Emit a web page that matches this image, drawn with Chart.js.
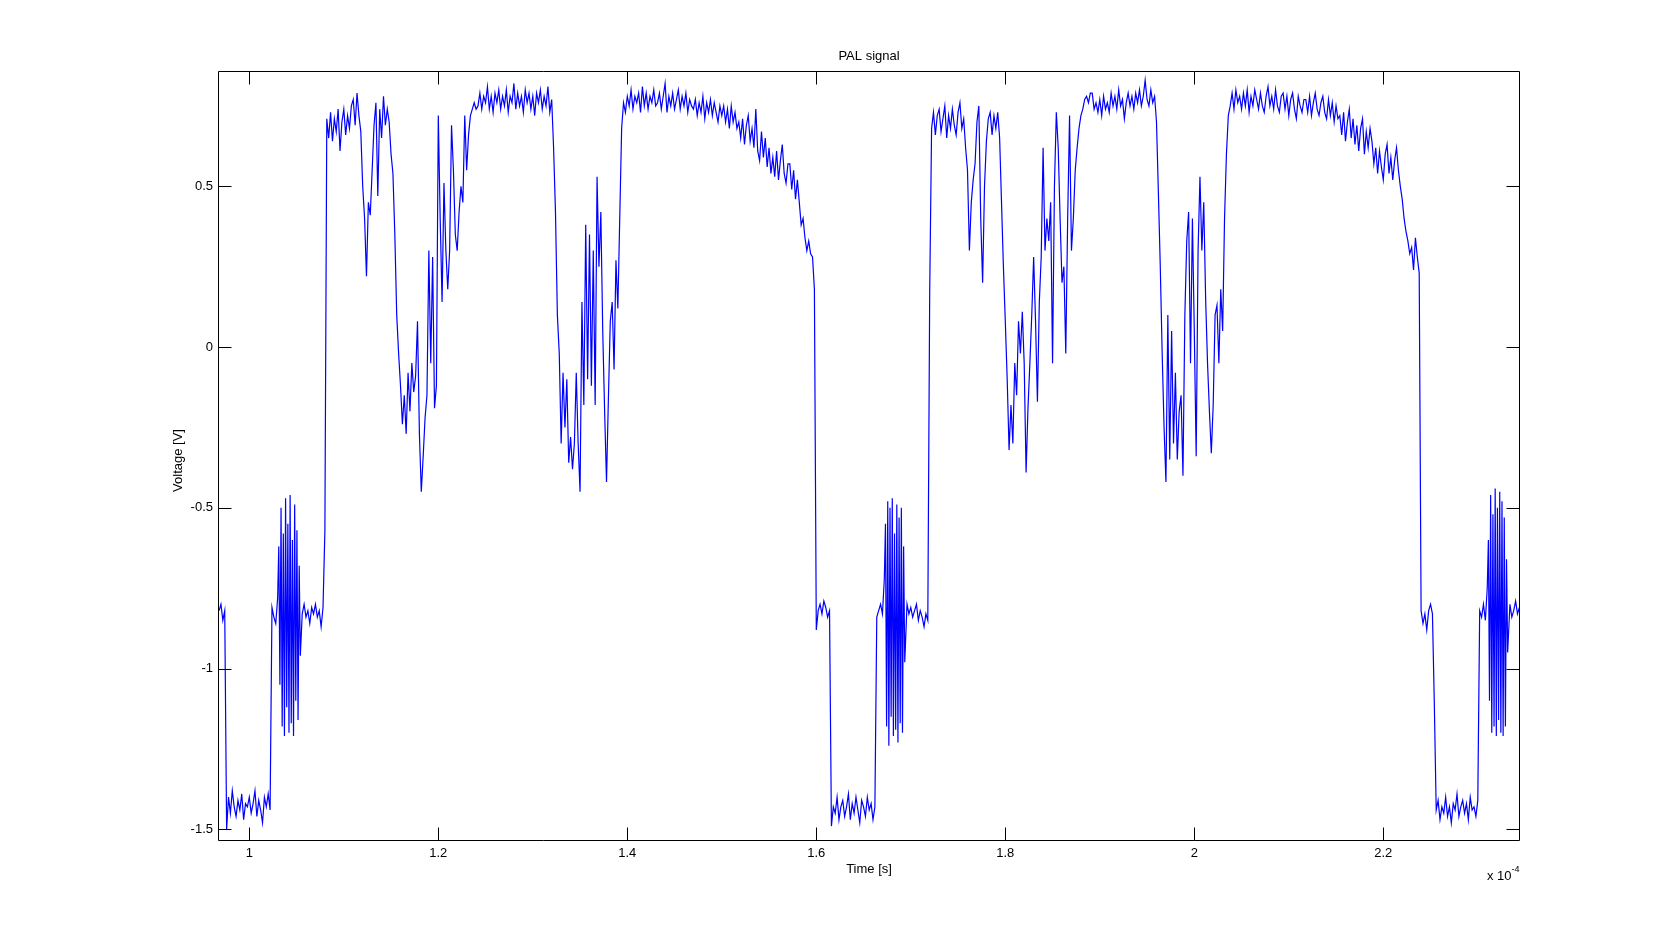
<!DOCTYPE html>
<html>
<head>
<meta charset="utf-8">
<script src="https://cdn.jsdelivr.net/npm/chart.js@4/dist/chart.umd.min.js"></script>
<style>
  html, body { margin: 0; padding: 0; background: #ffffff; }
  #wrap { width: 1679px; height: 944px; position: relative; }
</style>
</head>
<body>
<div id="wrap"><canvas id="c" width="1679" height="944"></canvas></div>
<script>
// Main sampling grid (time in units of 1e-4 s)
const sampleStart = 0.968;
const sampleStep = 0.002;

// Signal samples on the main grid, in hundredths of a volt.
// null = covered by the finer colour-burst samples below.
const N13 = [null,null,null,null,null,null,null,null,null,null,null,null,null];
const voltageCV = [
  // front porch / sync 1
  -82,-80,-85,-82,
  -150,-140,-145,-138,-143,-146,-141,-144,-139,-147,-142,-143,-140,-145,-142,-138,-146,-141,-144,-148,-140,-143,-139,-144,
  -81,-84,-86,
  ...N13,
  -83,-80,-84,-82,-86,-81,-83,-80,-84,-82,-87,-81,
  -57,
  // active video 1
  71,65,73,64,71,67,74,61,70,74,66,72,68,75,77,69,79,72,67,
  50,40,22,45,41,55,
  69,76,47,74,65,78,69,74,70,
  60,54,35,10,-2,
  -12,-24,-15,-27,-8,-20,-5,-14,-9,8,
  -27,-45,-34,-22,-15,
  30,-5,28,-19,-12,
  72,
  40,14,51,30,18,30,69,55,35,30,42,50,45,72,55,66,72,74,76,74,
  75,79,74,78,76,81,74,78,73,79,76,80,74,78,75,80,73,78,76,82,74,79,75,78,73,80,76,79,74,78,72,79,76,80,74,78,75,81,73,77,
  62,42,10,-2,
  -30,-8,-25,-10,-36,-28,-38,-30,-8,-30,-45,14,
  -18,38,-10,35,-12,30,-18,
  53,25,42,5,
  -20,-42,-16,
  8,14,-7,27,12,
  40,68,76,
  73,78,75,80,74,78,76,79,73,81,75,79,74,78,76,80,75,
  76,79,74,78,82,73,78,75,79,74,77,80,74,78,75,79,73,77,75,
  74,77,72,76,73,78,71,76,73,77,72,76,73,70,75,
  72,75,70,74,68,75,70,73,68,
  70,65,71,63,69,72,64,68,62,
  74,61,58,67,59,65,56,62,54,
  59,53,61,52,58,63,54,51,57,
  57,49,55,46,52,
  45,38,40,
  34,30,33,29,28,18,
  // front porch / sync 2
  -88,-82,-80,-83,-79,-81,-84,-82,
  -149,-143,-145,-140,-147,-143,-141,-146,-143,-139,-147,-142,-145,-140,-144,-148,-141,-143,-146,-140,-144,-142,-147,-143,
  -84,-82,-80,-83,
  null,null,null,null,null,null,null,null,null,null,null,null,
  -80,-83,-81,-84,-82,-80,-85,-82,-84,-87,-83,-85,
  17,
  // active video 2
  68,73,66,72,74,67,71,75,65,72,68,74,69,66,73,76,68,71,
  62,55,30,45,52,57,
  70,75,
  40,20,
  50,64,71,73,66,72,68,73,65,
  45,25,8,-10,
  -32,-18,-30,
  -5,-15,8,-2,11,-5,
  -39,
  -19,-5,10,28,8,-17,
  14,28,62,30,
  40,33,45,-5,50,73,
  62,40,20,25,-2,
  40,72,30,40,55,
  62,68,72,74,77,78,76,79,
  79,74,76,73,77,72,78,74,76,73,79,75,78,74,80,75,77,71,76,79,75,78,74,79,76,80,75,78,83,77,75,80,76,78,
  70,48,25,-2,-25,
  -42,10,-35,5,-30,-8,-35,-20,-15,-40,
  10,33,42,
  -5,40,5,-34,
  30,53,30,45,
  15,-5,-20,-33,-18,
  10,13,-5,18,5,
  40,60,72,
  75,79,74,80,76,78,74,79,75,80,73,78,75,80,77,74,79,75,73,78,81,75,78,74,80,75,73,78,79,74,78,72,77,79,74,71,78,75,73,77,
  77,73,78,72,76,79,74,72,76,78,73,71,77,72,76,70,75,71,
  72,66,73,64,70,74,65,71,63,69,61,68,71,60,67,62,68,
  64,57,62,54,61,56,52,60,63,54,59,52,58,62,
  55,50,46,40,
  36,33,29,31,24,34,28,23,
  // front porch / sync 3
  -82,-86,-83,-88,-82,-80,-83,
  -111,
  -144,-141,-147,-143,-145,-140,-146,-143,-148,-142,-144,-139,-146,-143,-141,-145,-142,-147,-140,-144,-143,-146,-141,
  -82,-84,-80,-85,
  null,null,null,null,null,null,null,null,null,null,null,null,
  -80,-84,-82,-79,-83,-81
];

// Colour bursts, sampled more finely (hundredths of a volt)
const burst1 = { start: 1.030, step: 0.0012, values: [
  -78,-62,-105,-50,-118,-58,-121,-47,-112,-55,-120,-46,-117,-60,-121,-49,-110,-57,-116,-68,-96] };
const burst2 = { start: 1.672, step: 0.0012, values: [
  -72,-55,-118,-48,-124,-50,-115,-47,-121,-58,-119,-49,-123,-53,-117,-50,-120,-62,-98] };
const burst3 = { start: 2.310, step: 0.0012, values: [
  -75,-60,-110,-46,-120,-52,-118,-44,-121,-50,-116,-45,-120,-48,-121,-53,-118,-66,-95] };

// Axis ticks and limits
const xTickValues = [1, 1.2, 1.4, 1.6, 1.8, 2, 2.2];
const yTickValues = [-1.5, -1, -0.5, 0, 0.5];
const xLimits = [0.96688, 2.34466];
const yLimits = [-1.53328, 0.85863];

const points = [];
voltageCV.forEach((cv, i) => { if (cv !== null) points.push({ x: sampleStart + i * sampleStep, y: cv / 100 }); });
[burst1, burst2, burst3].forEach(b => b.values.forEach((cv, k) => points.push({ x: b.start + k * b.step, y: cv / 100 })));
points.sort((a, b) => a.x - b.x);

const FONT = '"Liberation Sans", Arial, Helvetica, sans-serif';

const decor = {
  id: 'decor',
  afterDraw(chart) {
    const { ctx, chartArea: a, scales: { x, y } } = chart;
    ctx.save();
    ctx.strokeStyle = '#000000';
    ctx.lineWidth = 1;
    const L = Math.round(a.left) + 0.5, R = Math.round(a.right) - 0.5;
    const T = Math.round(a.top) + 0.5, B = Math.round(a.bottom) + 0.5;
    ctx.beginPath();
    ctx.rect(L, T, R - L, B - T);
    const TL = 13;
    xTickValues.forEach(v => {
      const px = Math.round(x.getPixelForValue(v)) + 0.5;
      ctx.moveTo(px, B); ctx.lineTo(px, B - TL);
      ctx.moveTo(px, T); ctx.lineTo(px, T + TL);
    });
    yTickValues.forEach(v => {
      const py = Math.round(y.getPixelForValue(v)) + 0.5;
      ctx.moveTo(L, py); ctx.lineTo(L + TL, py);
      ctx.moveTo(R, py); ctx.lineTo(R - TL, py);
    });
    ctx.stroke();

    ctx.fillStyle = '#000000';
    ctx.font = '13px ' + FONT;
    ctx.textAlign = 'center';
    ctx.textBaseline = 'alphabetic';
    const cx = (a.left + a.right) / 2;
    ctx.fillText('PAL signal', cx, 60);
    ctx.fillText('Time [s]', cx, 873);
    ctx.save();
    ctx.translate(182, (a.top + a.bottom) / 2 + 5);
    ctx.rotate(-Math.PI / 2);
    ctx.fillText('Voltage [V]', 0, 0);
    ctx.restore();
    ctx.textAlign = 'right';
    ctx.font = '9px ' + FONT;
    ctx.fillText('-4', R, 872);
    const w4 = ctx.measureText('-4').width;
    ctx.font = '13px ' + FONT;
    ctx.fillText('x 10', R - w4, 880);
    ctx.restore();
  }
};

new Chart(document.getElementById('c'), {
  type: 'line',
  data: {
    datasets: [{
      data: points,
      borderColor: '#0000ff',
      borderWidth: 1.2,
      pointRadius: 0,
      tension: 0,
      fill: false
    }]
  },
  options: {
    responsive: false,
    animation: false,
    devicePixelRatio: 1,
    layout: { padding: { left: 0, top: 71, right: 159, bottom: 0 } },
    plugins: { legend: { display: false }, tooltip: { enabled: false }, title: { display: false } },
    events: [],
    scales: {
      x: {
        type: 'linear',
        min: xLimits[0],
        max: xLimits[1],
        grid: { display: false, drawTicks: false },
        border: { display: false },
        afterFit: s => { s.height = 104; },
        afterBuildTicks: s => { s.ticks = xTickValues.map(v => ({ value: v })); },
        ticks: {
          padding: 6,
          maxRotation: 0,
          autoSkip: false,
          color: '#000000',
          font: { family: FONT, size: 13 },
          callback: v => String(Number(v.toFixed(1)))
        }
      },
      y: {
        type: 'linear',
        min: yLimits[0],
        max: yLimits[1],
        grid: { display: false, drawTicks: false },
        border: { display: false },
        afterFit: s => { s.width = 218; },
        afterBuildTicks: s => { s.ticks = yTickValues.map(v => ({ value: v })); },
        ticks: {
          padding: 5,
          autoSkip: false,
          color: '#000000',
          font: { family: FONT, size: 13 },
          callback: v => String(Number(v.toFixed(1)))
        }
      }
    }
  },
  plugins: [decor]
});
</script>
</body>
</html>
